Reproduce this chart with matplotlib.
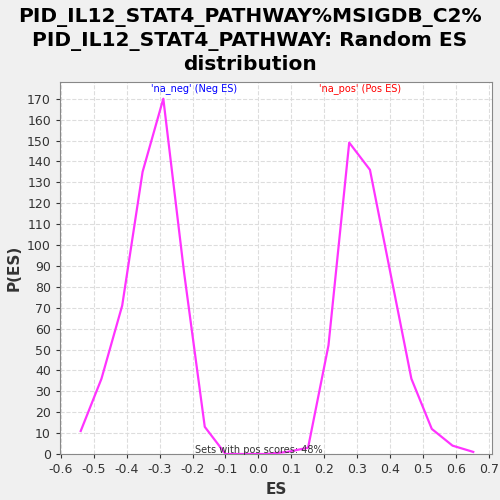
import matplotlib.pyplot as plt
import numpy as np

# ES bin centres and random ES histogram values
es = [-0.540, -0.477, -0.414, -0.352, -0.289, -0.226, -0.163, -0.100, -0.038, 0.025,
      0.088, 0.151, 0.213, 0.276, 0.339, 0.402, 0.465, 0.527, 0.590, 0.653]
p_es = [11, 36, 71, 135, 170, 87, 13, 0, 0, 0,
        1, 3, 52, 149, 136, 86, 36, 12, 4, 1]

xticks = np.round(np.arange(-0.6, 0.71, 0.1), 1) + 0.0
yticks = np.arange(0, 171, 10)

fig = plt.figure(figsize=(5, 5), dpi=100, facecolor="#f0f0f0")
ax = fig.add_axes([0.12, 0.092, 0.864, 0.744])
ax.set_facecolor("white")

ax.plot(es, p_es, color="#ff33ff", lw=1.6)

ax.set_xlim(-0.603, 0.71)
ax.set_ylim(0, 178)
ax.set_xticks(xticks)
ax.set_xticklabels([f"{t:.1f}".replace("-0.0", "0.0") for t in xticks])
ax.set_yticks(yticks)
ax.tick_params(labelsize=9, colors="#333333", length=3)
ax.grid(True, ls="--", color="#dddddd", lw=0.8)
for s in ax.spines.values():
    s.set_color("#888888")

ax.set_xlabel("ES", fontsize=11, fontweight="bold", color="#333333")
ax.set_ylabel("P(ES)", fontsize=11, fontweight="bold", color="#333333")

ax.text(-0.197, 175, "'na_neg' (Neg ES)", color="blue", fontsize=7, ha="center", va="center")
ax.text(0.309, 175, "'na_pos' (Pos ES)", color="red", fontsize=7, ha="center", va="center")
ax.text(0.0, 2, "Sets with pos scores: 48%", color="#333333", fontsize=7, ha="center", va="center")

fig.suptitle("PID_IL12_STAT4_PATHWAY%MSIGDB_C2%\nPID_IL12_STAT4_PATHWAY: Random ES\ndistribution",
             fontsize=14.5, fontweight="bold", y=0.984, linespacing=1.25)

fig.savefig("out.png", dpi=100, facecolor=fig.get_facecolor())
